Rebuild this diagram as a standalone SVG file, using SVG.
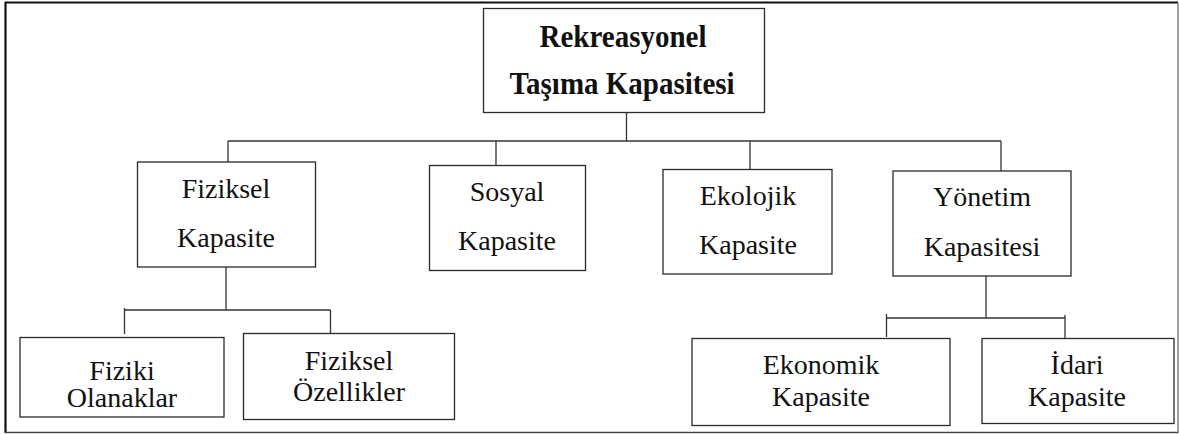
<svg xmlns="http://www.w3.org/2000/svg" width="1179" height="434" viewBox="0 0 1179 434">
  <style>
    .box { fill: #ffffff; stroke: #2a2a2a; stroke-width: 1.3; }
    .lbl { font-family: 'Liberation Serif', 'Times New Roman', Tinos, Times, 'Nimbus Roman', serif; font-size: 28px; font-weight: normal; fill: #111111; text-anchor: middle; }
    .title { font-family: 'Liberation Serif', 'Times New Roman', Tinos, Times, 'Nimbus Roman', serif; font-size: 29px; font-weight: bold; fill: #111111; text-anchor: middle; }
    .conn { fill: none; stroke: #333333; stroke-width: 1.3; }
  </style>
  <rect x="0" y="0" width="1179" height="434" fill="#ffffff"/>

  <!-- outer frame -->
  <g id="frame">
    <line x1="5" y1="2.5" x2="1178" y2="2.5" stroke="#111111" stroke-width="2.2"/>
    <line x1="5.5" y1="2" x2="5.5" y2="433" stroke="#111111" stroke-width="2.2"/>
    <line x1="1178" y1="3" x2="1178" y2="433" stroke="#8a8a8a" stroke-width="1.6"/>
    <line x1="5" y1="432.5" x2="1178" y2="432.5" stroke="#444444" stroke-width="1.6"/>
  </g>

  <!-- connectors -->
  <g id="connectors">
    <path class="conn" d="M626.5 112 V141"/>
    <path class="conn" d="M228 141 H1001"/>
    <path class="conn" d="M228 141 V162"/>
    <path class="conn" d="M496 141 V166"/>
    <path class="conn" d="M750 141 V169"/>
    <path class="conn" d="M1001 141 V171"/>
    <path class="conn" d="M226 267 V310"/>
    <path class="conn" d="M124.5 310 H330.5"/>
    <path class="conn" d="M124.5 308 V334"/>
    <path class="conn" d="M330.5 310 V333"/>
    <path class="conn" d="M986 276 V318"/>
    <path class="conn" d="M886.5 318 H1065"/>
    <path class="conn" d="M886.5 314 V337"/>
    <path class="conn" d="M1065 315 V338"/>
  </g>

  <g id="node-root">
    <rect class="box" x="483.5" y="8.5" width="281" height="104"/>
    <!-- bold title, stretched slightly in height -->
    <text class="title" transform="translate(623 47) scale(1 1.1)" x="0" y="0">Rekreasyonel</text>
    <text class="title" transform="translate(622 94) scale(1 1.1)" x="0" y="0">Taşıma Kapasitesi</text>
  </g>

  <g id="node-fiziksel">
    <rect class="box" x="137.5" y="162" width="178" height="105"/>
    <text class="lbl" x="226" y="198">Fiziksel</text>
    <text class="lbl" x="226" y="247">Kapasite</text>
  </g>

  <g id="node-sosyal">
    <rect class="box" x="429.5" y="165.5" width="156" height="105"/>
    <text class="lbl" x="507" y="201">Sosyal</text>
    <text class="lbl" x="507" y="250">Kapasite</text>
  </g>

  <g id="node-ekolojik">
    <rect class="box" x="663" y="169.5" width="169" height="104.5"/>
    <text class="lbl" x="748" y="205">Ekolojik</text>
    <text class="lbl" x="748" y="254">Kapasite</text>
  </g>

  <g id="node-yonetim">
    <rect class="box" x="893" y="171" width="178" height="105"/>
    <text class="lbl" x="982" y="206">Yönetim</text>
    <text class="lbl" x="982" y="256">Kapasitesi</text>
  </g>

  <g id="node-fiziki">
    <rect class="box" x="20" y="337.5" width="204" height="79.5"/>
    <text class="lbl" x="122" y="380">Fiziki</text>
    <text class="lbl" x="122" y="407">Olanaklar</text>
  </g>

  <g id="node-ozellikler">
    <rect class="box" x="243.5" y="333.5" width="211" height="86"/>
    <text class="lbl" x="349" y="370">Fiziksel</text>
    <text class="lbl" x="349" y="401">Özellikler</text>
  </g>

  <g id="node-ekonomik">
    <rect class="box" x="692" y="338.5" width="258" height="87"/>
    <text class="lbl" x="821" y="374">Ekonomik</text>
    <text class="lbl" x="821" y="406">Kapasite</text>
  </g>

  <g id="node-idari">
    <rect class="box" x="982" y="338.5" width="192" height="85"/>
    <text class="lbl" x="1077" y="374">İdari</text>
    <text class="lbl" x="1077" y="406">Kapasite</text>
  </g>
</svg>
